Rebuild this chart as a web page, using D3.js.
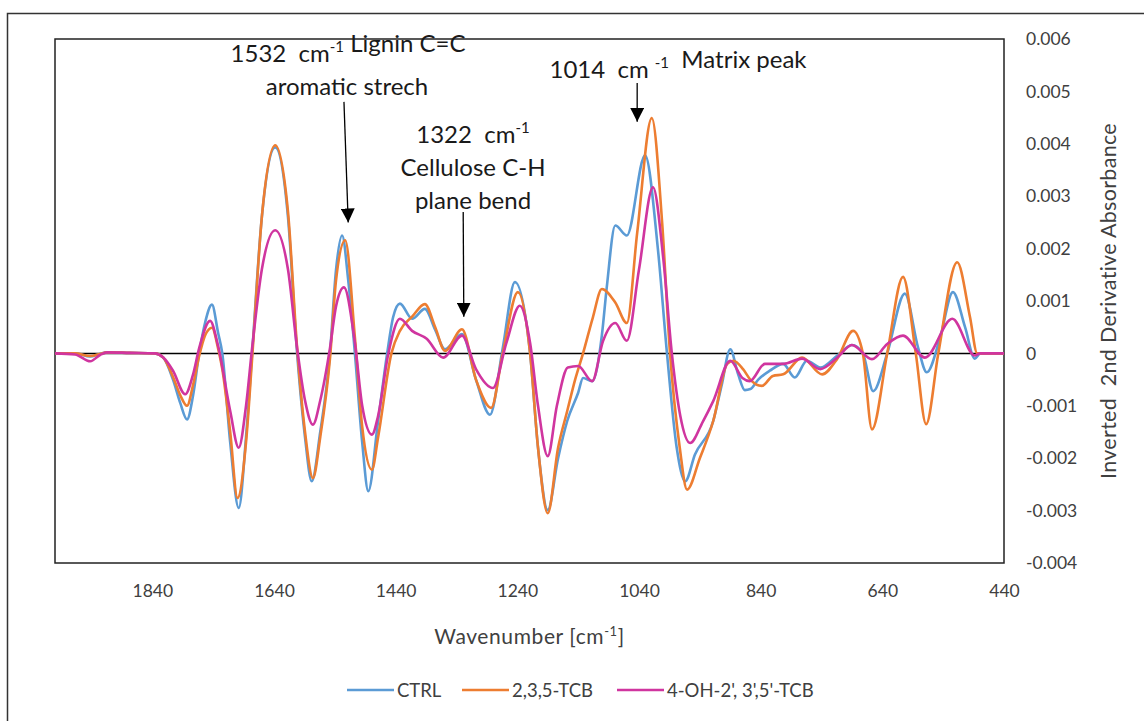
<!DOCTYPE html>
<html>
<head>
<meta charset="utf-8">
<script src="https://cdn.jsdelivr.net/npm/d3@7"></script>
<style>
  body { margin: 0; background: #fff; }
  svg text { font-family: Lato, "Open Sans", "Liberation Sans", sans-serif; white-space: pre; }
</style>
</head>
<body>
<svg id="chart" width="1144" height="721"></svg>
<script>
// Wavenumber axis ticks (cm-1) and absorbance axis ticks
const xTickValues = [1840, 1640, 1440, 1240, 1040, 840, 640, 440];
const yTickValues = [0.006, 0.005, 0.004, 0.003, 0.002, 0.001, 0, -0.001, -0.002, -0.003, -0.004];
const yTickLabels = ["0.006", "0.005", "0.004", "0.003", "0.002", "0.001", "0", "-0.001", "-0.002", "-0.003", "-0.004"];

const seriesNames = ["CTRL", "2,3,5-TCB", "4-OH-2', 3',5'-TCB"];
const seriesColors = ["#5B9BD5", "#ED7D31", "#D0359F"];

// [wavenumber cm-1, inverted 2nd derivative absorbance]
const ctrlPoints = [
  [2000, 0], [1967, 0], [1942, -0.00006], [1926, -0.00001], [1914, 0.00002], [1877, 0.00001],
  [1836, 0], [1822, -0.00008], [1806, -0.0005], [1794, -0.00095], [1783, -0.00126], [1773, -0.0008],
  [1763, 0], [1753, 0.0006], [1742, 0.00093], [1732, 0.0004], [1725, 0], [1712, -0.0017],
  [1698, -0.00295], [1686, -0.0016], [1676, 0], [1660, 0.0026], [1638, 0.00393], [1617, 0.0026],
  [1602, 0], [1589, -0.0016], [1578, -0.00244], [1564, -0.0015], [1548, 0], [1538, 0.0016],
  [1528, 0.00225], [1518, 0.0014], [1507, 0], [1495, -0.0017], [1485, -0.00263], [1469, -0.0013],
  [1454, 0], [1444, 0.0007], [1433, 0.00095], [1413, 0.00066], [1392, 0.00085], [1375, 0.00045],
  [1359, 0.00008], [1331, 0.00037], [1308, -0.0005], [1285, -0.00117], [1264, 0.0001], [1244, 0.00136],
  [1219, 0], [1206, -0.0018], [1190, -0.00299], [1173, -0.002], [1158, -0.00129], [1140, -0.00075],
  [1132, -0.00047], [1117, -0.00053], [1101, 0.00035], [1093, 0.00126], [1079, 0.00244], [1060, 0.00225],
  [1030, 0.00378], [1009, 0.002], [994, 0], [978, -0.0018], [964, -0.00244], [948, -0.00193],
  [918, -0.00129], [904, -0.0006], [890, 0.00008], [877, -0.0004], [866, -0.0007], [857, -0.00068],
  [844, -0.0005], [825, -0.00033], [803, -0.0002], [784, -0.00046], [764, -0.00014], [742, -0.00027],
  [714, -0.00004], [690, 0.00016], [672, 0], [655, -0.00072], [632, 0], [603, 0.00114],
  [581, 0.0001], [567, -0.00036], [545, 0.0003], [524, 0.00117], [504, 0.0005], [488, -0.0001],
  [479, 0], [440, 0]
];

const tcbPoints = [
  [2000, 0], [1967, 0], [1942, -0.00005], [1926, -0.00001], [1914, 0.00002], [1877, 0.00001],
  [1836, 0], [1822, -0.00008], [1806, -0.00045], [1794, -0.0008], [1783, -0.001], [1773, -0.0006],
  [1763, -0.00005], [1753, 0.00035], [1742, 0.00049], [1732, 0.0001], [1725, -0.0003], [1712, -0.0015],
  [1700, -0.00276], [1686, -0.0017], [1676, -0.0001], [1660, 0.0026], [1638, 0.00397], [1617, 0.0027],
  [1602, 0.0001], [1589, -0.0015], [1576, -0.00238], [1564, -0.0016], [1548, -0.0001], [1538, 0.0014],
  [1523, 0.00216], [1507, 0.0003], [1495, -0.0014], [1479, -0.00222], [1469, -0.00161], [1447, 0],
  [1433, 0.00043], [1413, 0.0007], [1392, 0.00094], [1375, 0.0005], [1359, 0.00005], [1331, 0.00046],
  [1308, -0.0005], [1283, -0.00104], [1264, 0], [1239, 0.00117], [1219, 0], [1206, -0.0018],
  [1190, -0.00305], [1173, -0.0018], [1158, -0.0011], [1145, -0.0005], [1132, 0], [1116, 0.00068],
  [1101, 0.00123], [1079, 0.00097], [1060, 0.00058], [1043, 0.0023], [1019, 0.00449], [1002, 0.0025],
  [989, 0], [973, -0.0018], [961, -0.0026], [940, -0.002], [918, -0.00129], [895, -0.0002],
  [885, -0.00014], [869, -0.0003], [857, -0.0005], [838, -0.00062], [820, -0.00043], [803, -0.0004],
  [772, -0.00008], [739, -0.0004], [714, -0.0001], [688, 0.00043], [672, 0], [657, -0.00145],
  [632, 0], [606, 0.00146], [585, 0], [568, -0.00135], [548, 0], [517, 0.00174],
  [496, 0.0007], [484, 0], [440, 0]
];

const ohTcbPoints = [
  [2000, 0], [1967, -0.00002], [1942, -0.00015], [1926, -0.00003], [1914, 0.00002], [1877, 0.00001],
  [1836, 0], [1822, -0.00008], [1806, -0.00033], [1786, -0.00078], [1773, -0.0004], [1763, 0.0001],
  [1745, 0.00062], [1732, 0.00015], [1712, -0.0011], [1698, -0.0018], [1686, -0.001], [1676, 0.0001],
  [1660, 0.0016], [1638, 0.00235], [1617, 0.0016], [1602, 0.0001], [1589, -0.0009], [1576, -0.00136],
  [1564, -0.0009], [1548, 0.0001], [1538, 0.0009], [1525, 0.00126], [1507, 0.0002], [1495, -0.001],
  [1479, -0.00155], [1469, -0.0012], [1452, 0], [1433, 0.00066], [1413, 0.00043], [1389, 0.00028],
  [1362, -0.00008], [1331, 0.00034], [1308, -0.0003], [1280, -0.00066], [1258, 0.0002], [1236, 0.00091],
  [1219, 0.0002], [1206, -0.001], [1190, -0.00196], [1175, -0.001], [1157, -0.00027], [1140, -0.00024],
  [1117, -0.00053], [1099, 0.00024], [1079, 0.00058], [1060, 0.00024], [1040, 0.0016], [1017, 0.00317],
  [1000, 0.0018], [986, 0], [972, -0.0012], [956, -0.00171], [935, -0.0013], [918, -0.00091],
  [890, -0.00014], [870, -0.00047], [858, -0.00053], [833, -0.0002], [803, -0.0002], [772, -0.0001],
  [742, -0.0003], [714, -0.00008], [690, 0.00016], [657, -0.00011], [632, 0.00018], [606, 0.00034],
  [570, -0.00008], [525, 0.00066], [488, -0.00004], [479, 0], [440, 0]
];

const allSeries = [ctrlPoints, tcbPoints, ohTcbPoints];

const svg = d3.select("#chart");
const plot = { left: 55, top: 39, right: 1004, bottom: 563 };

const x = d3.scaleLinear().domain([2000, 440]).range([plot.left, plot.right]);
const y = d3.scaleLinear().domain([-0.004, 0.006]).range([plot.bottom, plot.top]);

// outer chart frame
svg.append("rect")
  .attr("x", 7.5).attr("y", 13.5).attr("width", 1200).attr("height", 800)
  .attr("fill", "none").attr("stroke", "#333").attr("stroke-width", 1.5);

// plot area border
svg.append("rect")
  .attr("x", plot.left).attr("y", plot.top)
  .attr("width", plot.right - plot.left).attr("height", plot.bottom - plot.top)
  .attr("fill", "none").attr("stroke", "#222").attr("stroke-width", 1.5);

// horizontal axis line at zero
svg.append("line")
  .attr("x1", plot.left).attr("x2", plot.right)
  .attr("y1", y(0)).attr("y2", y(0))
  .attr("stroke", "#000").attr("stroke-width", 1.5);

// bottom wavenumber labels
const xAxis = svg.append("g")
  .attr("transform", `translate(0,${plot.bottom})`)
  .call(d3.axisBottom(x).tickValues(xTickValues).tickSize(0).tickPadding(22).tickFormat(d3.format("d")));
xAxis.select(".domain").remove();
xAxis.selectAll("text").attr("font-size", 17.5).attr("fill", "#404040")
  .style("font-family", "Lato, sans-serif");

// right absorbance labels
const yAxis = svg.append("g")
  .attr("transform", `translate(${plot.right},0)`)
  .call(d3.axisRight(y).tickValues(yTickValues).tickSize(0).tickPadding(22)
    .tickFormat((d, i) => yTickLabels[i]));
yAxis.select(".domain").remove();
yAxis.selectAll("text").attr("font-size", 17.5).attr("fill", "#404040")
  .style("font-family", "Lato, sans-serif");

// spectra
const line = d3.line()
  .x(d => x(d[0]))
  .y(d => y(d[1]))
  .curve(d3.curveMonotoneX);

svg.append("g").selectAll("path")
  .data(allSeries)
  .join("path")
  .attr("d", line)
  .attr("fill", "none")
  .attr("stroke", (d, i) => seriesColors[i])
  .attr("stroke-width", 2.6)
  .attr("stroke-linejoin", "round");

// axis titles
const xTitle = svg.append("text")
  .attr("x", (plot.left + plot.right) / 2).attr("y", 644)
  .attr("text-anchor", "middle").attr("font-size", 21).attr("letter-spacing", 0.6)
  .attr("fill", "#404040");
xTitle.append("tspan").text("Wavenumber [cm");
xTitle.append("tspan").attr("font-size", 13).attr("dy", -8).text("-1");
xTitle.append("tspan").attr("dy", 8).text("]");

svg.append("text")
  .attr("transform", `translate(1116,${(plot.top + plot.bottom) / 2}) rotate(-90)`)
  .attr("text-anchor", "middle").attr("font-size", 21.5).attr("letter-spacing", 0.3)
  .attr("fill", "#404040")
  .text("Inverted  2nd Derivative Absorbance");

// annotations with arrows
const defs = svg.append("defs");
defs.append("marker")
  .attr("id", "arrowHead")
  .attr("viewBox", "0 0 10 10").attr("refX", 10).attr("refY", 5)
  .attr("markerWidth", 14).attr("markerHeight", 14)
  .attr("markerUnits", "userSpaceOnUse")
  .attr("orient", "auto")
  .append("path").attr("d", "M0,0 L10,5 L0,10 Z").attr("fill", "#000");

const arrows = [
  { from: [1525, 0.0048], to: [1518, 0.0025] },
  { from: [1329, 0.0027], to: [1328, 0.0007] },
  { from: [1043, 0.00516], to: [1043, 0.00442] }
];
arrows.forEach(a => {
  svg.append("line")
    .attr("x1", x(a.from[0])).attr("y1", y(a.from[1]))
    .attr("x2", x(a.to[0])).attr("y2", y(a.to[1]))
    .attr("stroke", "#000").attr("stroke-width", 1.3)
    .attr("marker-end", "url(#arrowHead)");
});

function annotation(cx, baseline, parts) {
  const t = svg.append("text")
    .attr("x", cx).attr("y", baseline)
    .attr("text-anchor", "middle").attr("font-size", 24).attr("fill", "#1a1a1a");
  parts.forEach(p => {
    if (p.sup) {
      t.append("tspan").attr("font-size", 15).attr("dy", -10).text(p.sup);
      t.append("tspan").attr("dy", 10).text("");
    } else {
      t.append("tspan").text(p.text);
    }
  });
}

annotation(348, 62, [{ text: "1532  cm" }, { sup: "-1" }, { text: " Lignin C=C" }]);
annotation(347, 95, [{ text: "aromatic strech" }]);
annotation(473, 143, [{ text: "1322  cm" }, { sup: "-1" }]);
annotation(473, 176, [{ text: "Cellulose C-H" }]);
annotation(473, 209, [{ text: "plane bend" }]);
annotation(678, 78, [{ text: "1014  cm " }, { sup: "-1" }, { text: "  Matrix peak" }]);

// legend
const legendItems = [
  { x: 347, name: seriesNames[0], color: seriesColors[0] },
  { x: 462, name: seriesNames[1], color: seriesColors[1] },
  { x: 617, name: seriesNames[2], color: seriesColors[2] }
];
const legend = svg.append("g");
legendItems.forEach(item => {
  legend.append("line")
    .attr("x1", item.x).attr("x2", item.x + 47)
    .attr("y1", 690).attr("y2", 690)
    .attr("stroke", item.color).attr("stroke-width", 2.6);
  legend.append("text")
    .attr("x", item.x + 50).attr("y", 697)
    .attr("font-size", 18.5).attr("fill", "#404040")
    .text(item.name);
});
</script>
</body>
</html>
